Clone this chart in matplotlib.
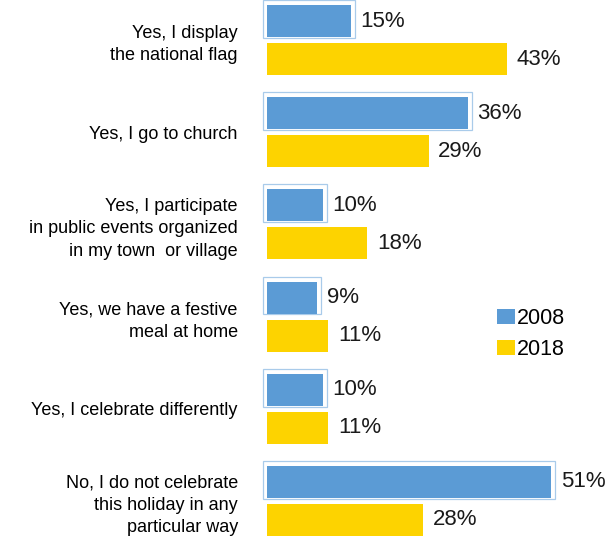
import matplotlib
matplotlib.use("Agg")
from matplotlib import pyplot as plt
import numpy as np

categories = [
    "Yes, I display\nthe national flag",
    "Yes, I go to church",
    "Yes, I participate\nin public events organized\nin my town  or village",
    "Yes, we have a festive\nmeal at home",
    "Yes, I celebrate differently",
    "No, I do not celebrate\nthis holiday in any\nparticular way",
]
v2008 = [15, 36, 10, 9, 10, 51]
v2018 = [43, 29, 18, 11, 11, 28]
series = ["2008", "2018"]

blue = "#5B9BD5"
yellow = "#FDD300"

plt.rcParams['font.family'] = ['Liberation Sans', 'DejaVu Sans']

fig = plt.figure(figsize=(6.08, 5.42), dpi=100)
ax = fig.add_axes([260 / 608, 0, 1 - 260 / 608, 1])

y = np.arange(len(categories))
off = 0.206
h = 0.347

# light frame around the 2008 bars
ax.barh(y - off - 0.022, np.array(v2008) + 1.44, height=0.41, left=-0.72,
        fill=False, edgecolor="#A9CBEA", linewidth=0.9)
b1 = ax.barh(y - off, v2008, height=h, color=blue, label=series[0])
b2 = ax.barh(y + off, v2018, height=h, color=yellow, label=series[1])

for bars, vals in ((b1, v2008), (b2, v2018)):
    for r, v in zip(bars, vals):
        ax.annotate("{}%".format(v), (r.get_width(), r.get_y() + r.get_height() / 2),
                    xytext=(7, 0), textcoords="offset points",
                    va="center", ha="left", fontsize=16, color="#1a1a1a")

ax.set_xlim(-7 / 5.57, (608 - 267) / 5.57)
ax.set_ylim(5.445, -0.434)
ax.set_yticks(y)
ax.set_yticklabels(categories, fontsize=13, multialignment="right", linespacing=1.4)
ax.tick_params(axis="y", length=0, pad=16)
ax.set_xticks([])
for s in ax.spines.values():
    s.set_visible(False)

fig.legend(handles=[b1, b2], loc="upper left", bbox_to_anchor=(497 / 608, 1 - 308 / 542),
           frameon=False, fontsize=15.5, borderpad=0, borderaxespad=0,
           handlelength=0.85, handleheight=0.7, handletextpad=0.05, labelspacing=0.45)

fig.savefig("out.png", dpi=100)
